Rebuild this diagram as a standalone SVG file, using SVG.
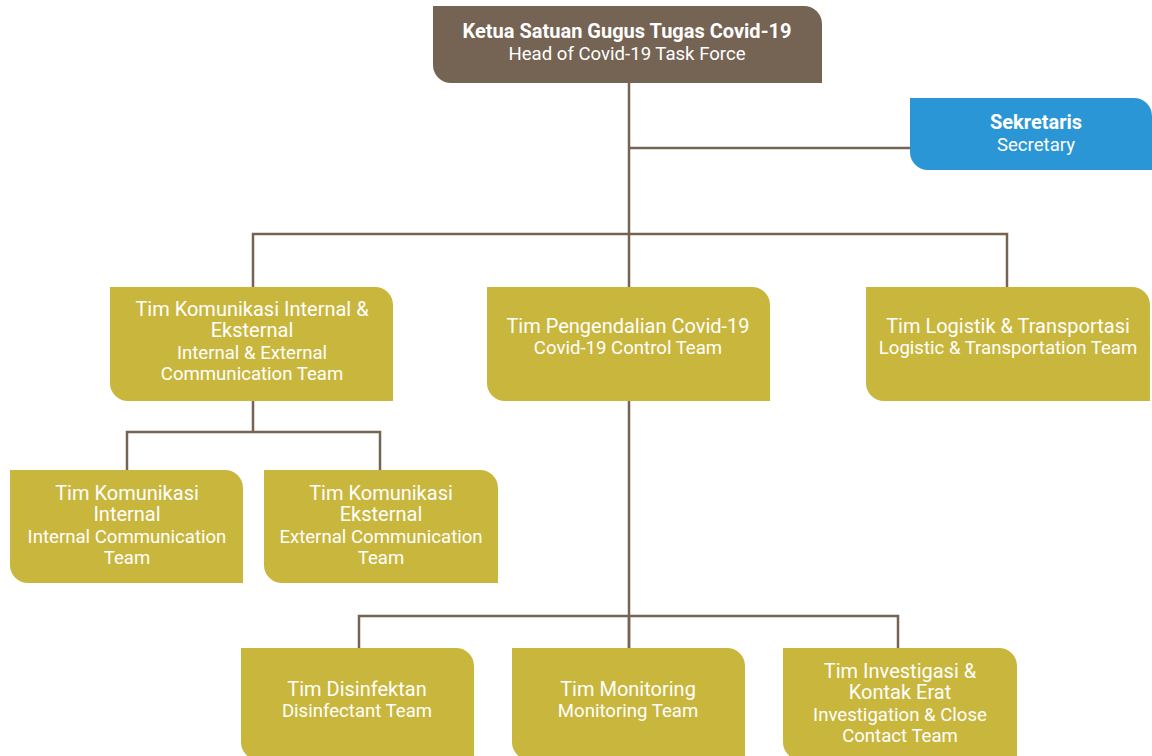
<svg xmlns="http://www.w3.org/2000/svg" width="1152" height="756" viewBox="0 0 1152 756">
<style>
.t{font-family:Roboto,"Liberation Sans",sans-serif;font-size:18.6px;fill:#ffffff;text-anchor:middle}
.i{font-size:20px}
.b{font-weight:bold;font-size:20px}
.gold{fill:#c9b63d}
.brown{fill:#756353}
.blue{fill:#2b96d5}
.ln{stroke:#756353;stroke-width:2.5;fill:none}
</style>
<rect width="1152" height="756" fill="#ffffff"/>
<g id="connectors">
<path class="ln" d="M629 83V287"/>
<path class="ln" d="M629 148H912"/>
<path class="ln" d="M253 287V234H1007V287"/>
<path class="ln" d="M253 401V432"/>
<path class="ln" d="M127 470V432H380V470"/>
<path class="ln" d="M629 401V648"/>
<path class="ln" d="M359 648V616H898V648"/>
<path class="ln" d="M629 616V648"/>
</g>
<g id="head">
<path class="brown" d="M433 6H804A18 18 0 0 1 822 24V83H451A18 18 0 0 1 433 65Z"/>
<text class="t b" x="627" y="38">Ketua Satuan Gugus Tugas Covid-19</text>
<text class="t" x="627" y="59.5">Head of Covid-19 Task Force</text>
</g>
<g id="secretary">
<path class="blue" d="M910 98H1134A18 18 0 0 1 1152 116V170H928A18 18 0 0 1 910 152Z"/>
<text class="t b" x="1036" y="129">Sekretaris</text>
<text class="t" x="1036" y="151">Secretary</text>
</g>
<g id="komunikasi">
<path class="gold" d="M110 287H375A18 18 0 0 1 393 305V401H128A18 18 0 0 1 110 383Z"/>
<text class="t i" x="252" y="315.5">Tim Komunikasi Internal &amp;</text>
<text class="t i" x="252" y="337">Eksternal</text>
<text class="t" x="252" y="358.5">Internal &amp; External</text>
<text class="t" x="252" y="380">Communication Team</text>
</g>
<g id="pengendalian">
<path class="gold" d="M487 287H752A18 18 0 0 1 770 305V401H505A18 18 0 0 1 487 383Z"/>
<text class="t i" x="628" y="332.5">Tim Pengendalian Covid-19</text>
<text class="t" x="628" y="354">Covid-19 Control Team</text>
</g>
<g id="logistik">
<path class="gold" d="M866 287H1132A18 18 0 0 1 1150 305V401H884A18 18 0 0 1 866 383Z"/>
<text class="t i" x="1008" y="332.5">Tim Logistik &amp; Transportasi</text>
<text class="t" x="1008" y="354">Logistic &amp; Transportation Team</text>
</g>
<g id="internal">
<path class="gold" d="M10 470H225A18 18 0 0 1 243 488V583H28A18 18 0 0 1 10 565Z"/>
<text class="t i" x="127" y="499.5">Tim Komunikasi</text>
<text class="t i" x="127" y="521">Internal</text>
<text class="t" x="127" y="542.5">Internal Communication</text>
<text class="t" x="127" y="564">Team</text>
</g>
<g id="eksternal">
<path class="gold" d="M264 470H480A18 18 0 0 1 498 488V583H282A18 18 0 0 1 264 565Z"/>
<text class="t i" x="381" y="499.5">Tim Komunikasi</text>
<text class="t i" x="381" y="521">Eksternal</text>
<text class="t" x="381" y="542.5">External Communication</text>
<text class="t" x="381" y="564">Team</text>
</g>
<g id="disinfektan">
<path class="gold" d="M241 648H456A18 18 0 0 1 474 666V760H259A18 18 0 0 1 241 742Z"/>
<text class="t i" x="357" y="695.5">Tim Disinfektan</text>
<text class="t" x="357" y="717">Disinfectant Team</text>
</g>
<g id="monitoring">
<path class="gold" d="M512 648H727A18 18 0 0 1 745 666V760H530A18 18 0 0 1 512 742Z"/>
<text class="t i" x="628" y="695.5">Tim Monitoring</text>
<text class="t" x="628" y="717">Monitoring Team</text>
</g>
<g id="investigasi">
<path class="gold" d="M783 648H999A18 18 0 0 1 1017 666V760H801A18 18 0 0 1 783 742Z"/>
<text class="t i" x="900" y="677.5">Tim Investigasi &amp;</text>
<text class="t i" x="900" y="699">Kontak Erat</text>
<text class="t" x="900" y="721">Investigation &amp; Close</text>
<text class="t" x="900" y="742">Contact Team</text>
</g>
</svg>
